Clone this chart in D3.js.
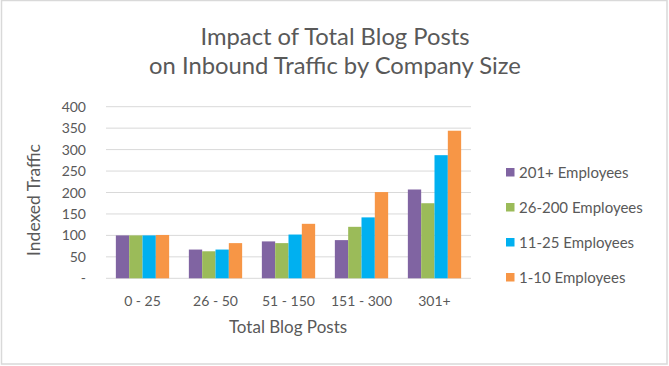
<!DOCTYPE html>
<html><head><meta charset="utf-8">
<script src="https://cdn.jsdelivr.net/npm/d3@7"></script>
<style>body{margin:0;background:#fff}svg{display:block}text{font-family:Lato,"Open Sans",sans-serif;fill:#595959}</style>
</head><body><svg id="c" width="669" height="366"></svg>
<script>
const categories = ["0 - 25","26 - 50","51 - 150","151 - 300","301+"];
const seriesNames = ["201+ Employees","26-200 Employees","11-25 Employees","1-10 Employees"];
const series201 = [100, 67, 86, 89, 207];
const series26 = [100, 63, 82, 120, 175];
const series11 = [100, 67, 102, 142, 287];
const series1 = [101, 82, 127, 201, 344];
const colors = ["#8064A2","#9BBB59","#00B0F0","#F79646"];
const yTicks = [0,50,100,150,200,250,300,350,400];
const yTickLabels = ["-","50","100","150","200","250","300","350","400"];

const allSeries = [series201, series26, series11, series1];
const svg = d3.select("#c");
svg.append("rect").attr("x",1.5).attr("y",0.5).attr("width",665.5).attr("height",363.5)
  .attr("fill","#fff").attr("stroke","#d9d9d9").attr("stroke-width",1.5);

const L=106, R=471, T=106.7, B=278.3;
const x = d3.scaleBand().domain(categories).range([L,R]).paddingInner(0.27).paddingOuter(0.135);
const xi = d3.scaleBand().domain(d3.range(4)).range([0,x.bandwidth()]);
const y = d3.scaleLinear().domain([0,400]).range([B,T]);

const g = svg.append("g");
g.selectAll("line.grid").data(yTicks).join("line")
  .attr("x1",L).attr("x2",R).attr("y1",d=>y(d)).attr("y2",d=>y(d))
  .attr("stroke","#d9d9d9").attr("stroke-width",1);

categories.forEach((c,ci)=>{
  g.selectAll(null).data(allSeries.map((s,si)=>({si,v:s[ci]}))).join("rect")
    .attr("x",d=>x(c)+xi(d.si)).attr("width",xi.bandwidth())
    .attr("y",d=>y(d.v)).attr("height",d=>y(0)-y(d.v))
    .attr("fill",d=>colors[d.si]);
});

svg.append("g").selectAll("text").data(yTicks).join("text")
  .attr("x",86).attr("y",d=>y(d)+5).attr("text-anchor","end")
  .style("font-size","14px").text((d,i)=>yTickLabels[i]);

svg.append("g").selectAll("text").data(categories).join("text")
  .attr("x",d=>x(d)+x.bandwidth()/2).attr("y",306).attr("text-anchor","middle")
  .style("font-size","14px").text(d=>d);

svg.append("text").attr("x",288).attr("y",333).attr("text-anchor","middle")
  .style("font-size","17px").text("Total Blog Posts");
svg.append("text").attr("transform","translate(40,200) rotate(-90)").attr("text-anchor","middle")
  .style("font-size","17.5px").text("Indexed Traffic");

svg.append("text").attr("x",335).attr("y",45).attr("text-anchor","middle")
  .style("font-size","23.8px").text("Impact of Total Blog Posts");
svg.append("text").attr("x",335).attr("y",74).attr("text-anchor","middle")
  .style("font-size","23.8px").text("on Inbound Traffic by Company Size");

const legY = [173,208,243,278];
const lg = svg.append("g").selectAll("g").data(seriesNames).join("g")
  .attr("transform",(d,i)=>`translate(506,${legY[i]})`);
lg.append("rect").attr("x",0).attr("y",-5).attr("width",8.5).attr("height",8.5).attr("fill",(d,i)=>colors[i]);
lg.append("text").attr("x",13).attr("y",5).style("font-size","15px").text(d=>d);
</script></body></html>
